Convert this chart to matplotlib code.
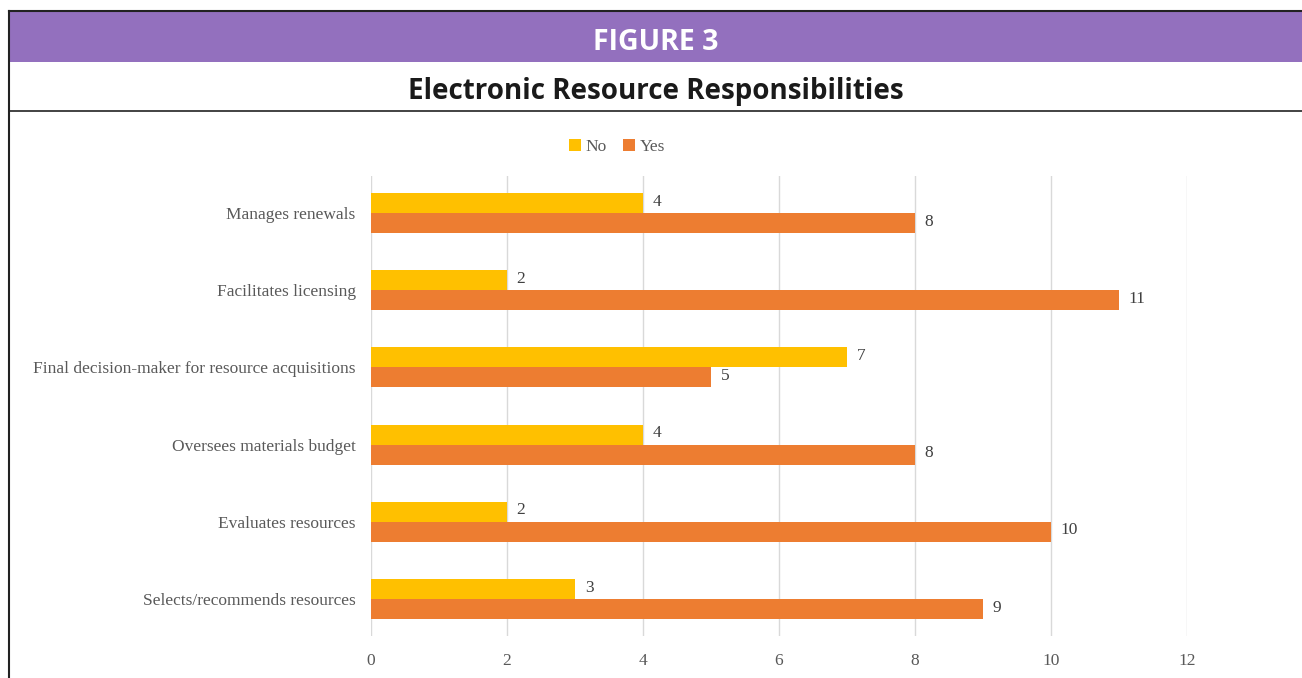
import numpy as np
import matplotlib.pyplot as plt
from matplotlib.patches import Rectangle
from matplotlib.lines import Line2D

# data (top to bottom as shown)
categories = ["Manages renewals", "Facilitates licensing",
              "Final decision-maker for resource acquisitions",
              "Oversees materials budget", "Evaluates resources",
              "Selects/recommends resources"]
no_vals = [4, 2, 7, 4, 2, 3]
yes_vals = [8, 11, 5, 8, 10, 9]

no_color = "#FFC000"
yes_color = "#ED7D31"
txt_color = "#595959"
serif = ["Liberation Serif", "DejaVu Serif"]

fig = plt.figure(figsize=(13.02, 6.78), dpi=100)
W, H = 1302, 678

def fx(px):
    return px / W

def fy(py):
    return 1 - py / H

# header band + frame
fig.patches.append(Rectangle((fx(9), fy(62)), 1, fy(11) - fy(62),
                             transform=fig.transFigure, facecolor="#9370BE",
                             edgecolor="none", zorder=0))
fig.lines.append(Line2D([fx(9), 1], [fy(11), fy(11)], transform=fig.transFigure,
                        color="#222222", lw=1.5))
fig.lines.append(Line2D([fx(9), fx(9)], [fy(11), 0], transform=fig.transFigure,
                        color="#222222", lw=1.5))
fig.lines.append(Line2D([fx(9), 1], [fy(110.5), fy(110.5)], transform=fig.transFigure,
                        color="#222222", lw=1.2))

fig.text(fx(656), fy(42), "FIGURE 3", color="white", fontsize=20.5,
         fontweight="bold", family="Open Sans", ha="center", va="center")
fig.text(fx(656), fy(92), "Electronic Resource Responsibilities", color="#1a1a1a",
         fontsize=20, fontweight="bold", family="Open Sans", ha="center", va="center")

ax = fig.add_axes([fx(371), fy(636), fx(1187) - fx(371), fy(176) - fy(636)])
n = len(categories)
y = np.arange(n)[::-1]
h = 0.26
b1 = ax.barh(y + h / 2, no_vals, height=h, color=no_color, label="No", zorder=3)
b2 = ax.barh(y - h / 2, yes_vals, height=h, color=yes_color, label="Yes", zorder=3)

for bars, vals in ((b1, no_vals), (b2, yes_vals)):
    for bar, v in zip(bars, vals):
        ax.annotate(str(v), (v, bar.get_y() + bar.get_height() / 2),
                    xytext=(7, 1), textcoords="offset points", ha="left",
                    va="center", fontsize=12.5, family=serif, color="#404040")

ax.set_xlim(0, 12)
ax.set_ylim(-0.48, n - 0.52)
ax.set_xticks(np.arange(0, 13, 2))
ax.set_yticks(y)
ax.set_yticklabels(categories)
ax.grid(axis="x", color="#D9D9D9", lw=1, zorder=0)
ax.set_axisbelow(True)
for s in ax.spines.values():
    s.set_visible(False)
ax.tick_params(length=0, labelsize=12.5, colors=txt_color)
ax.tick_params(axis="x", pad=12)
ax.tick_params(axis="y", pad=11)
for lab in ax.get_xticklabels() + ax.get_yticklabels():
    lab.set_family(serif)

leg = fig.legend(handles=[b1, b2], loc="center", bbox_to_anchor=(fx(617), fy(147)),
                 ncol=2, frameon=False, handlelength=0.7, handleheight=0.7,
                 handletextpad=0.3, columnspacing=0.9,
                 prop={"family": serif, "size": 12.5})
for t in leg.get_texts():
    t.set_color(txt_color)

fig.savefig("out.png", dpi=100)
